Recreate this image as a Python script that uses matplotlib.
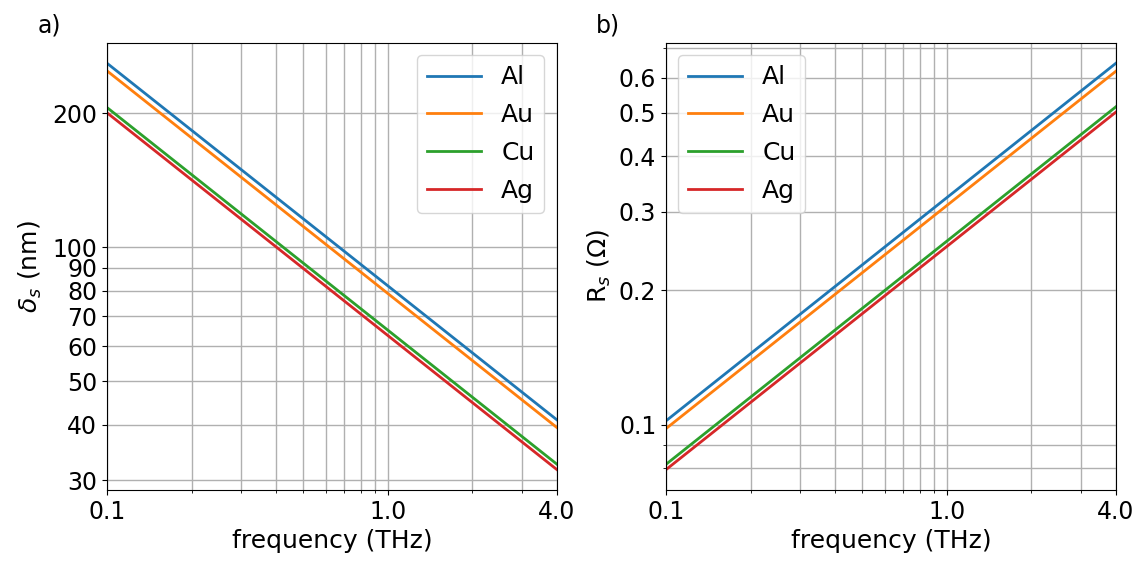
import matplotlib
matplotlib.use('Agg')
import matplotlib.pyplot as plt
from matplotlib.ticker import NullFormatter

plt.rcParams['font.size'] = 18
plt.rcParams['xtick.labelsize'] = 17
plt.rcParams['ytick.labelsize'] = 17

metals = ['Al', 'Au', 'Cu', 'Ag']
colors = ['tab:blue', 'tab:orange', 'tab:green', 'tab:red']

# frequency endpoints (THz)
freq = [0.1, 4.0]

# skin depth (nm) at 0.1 and 4.0 THz
delta_al = [259, 41.0]
delta_au = [249, 39.4]
delta_cu = [206, 32.6]
delta_ag = [200.5, 31.7]

# surface resistance (Ohm) at 0.1 and 4.0 THz
rs_al = [0.102, 0.646]
rs_au = [0.098, 0.620]
rs_cu = [0.0815, 0.516]
rs_ag = [0.0793, 0.502]

delta = [delta_al, delta_au, delta_cu, delta_ag]
rs = [rs_al, rs_au, rs_cu, rs_ag]

fig = plt.figure(figsize=(11.39, 5.63), dpi=100)
ax1 = fig.add_axes([0.094, 0.1297, 0.395, 0.794])
ax2 = fig.add_axes([0.5847, 0.1297, 0.395, 0.794])

for ax, data in [(ax1, delta), (ax2, rs)]:
    for name, vals, c in zip(metals, data, colors):
        ax.plot(freq, vals, color=c, label=name, lw=2)
    ax.set_xscale('log')
    ax.set_yscale('log')
    ax.set_xlim(0.1, 4.0)
    ax.set_xticks([0.1, 1.0, 4.0])
    ax.set_xticklabels(['0.1', '1.0', '4.0'])
    ax.xaxis.set_minor_formatter(NullFormatter())
    ax.grid(True, which='both', color='#b0b0b0', lw=1)
    ax.set_xlabel('frequency (THz)')

yt1 = [30, 40, 50, 60, 70, 80, 90, 100, 200]
ax1.set_yticks(yt1)
ax1.set_yticklabels([str(v) for v in yt1])
ax1.yaxis.set_minor_formatter(NullFormatter())
ax1.set_ylabel(r'$\delta_s$ (nm)', labelpad=6)
ax1.legend(loc='upper right', fontsize=18, handlelength=2.15, labelspacing=0.55)

yt2 = [0.1, 0.2, 0.3, 0.4, 0.5, 0.6]
ax2.set_yticks(yt2)
ax2.set_yticklabels([str(v) for v in yt2])
ax2.yaxis.set_minor_formatter(NullFormatter())
ax2.set_ylabel(r'R$_s$ ($\Omega$)')
ax2.legend(loc='upper left', fontsize=18, handlelength=2.15, labelspacing=0.55)

fig.text(0.033, 0.943, 'a)', fontsize=17)
fig.text(0.523, 0.943, 'b)', fontsize=17)

fig.savefig('out.png')
